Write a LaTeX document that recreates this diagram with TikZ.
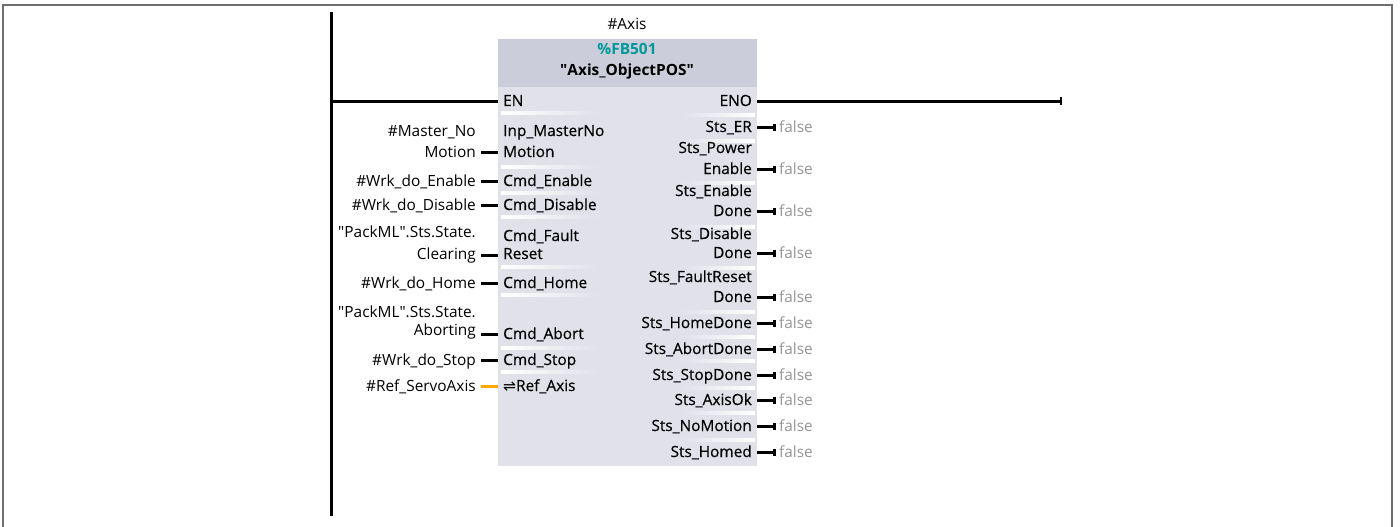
\documentclass[tikz,border=0pt]{standalone}
\usepackage{fontspec}
\setmainfont{Open Sans}
\newfontfamily\pinfont[FakeBold=0.4]{Open Sans}
\newfontfamily\symfont{DejaVu Sans}
\usetikzlibrary{arrows.meta}
\definecolor{hdrc}{RGB}{203,205,219}
\definecolor{bodyc}{RGB}{224,225,233}
\definecolor{tealc}{RGB}{0,153,153}
\definecolor{fgray}{RGB}{150,150,150}
\definecolor{framec}{RGB}{110,110,110}
\definecolor{refor}{RGB}{255,168,0}
\newcommand{\fsz}{\fontsize{15.4}{18}\selectfont}
\tikzset{
  lbl/.style={anchor=base east, inner sep=0pt, font=\fsz},
  inname/.style={anchor=base west, inner sep=0pt, font=\pinfont\fsz},
  outname/.style={anchor=base east, inner sep=0pt, font=\pinfont\fsz},
  fval/.style={anchor=base west, inner sep=0pt, text=fgray, font=\fsz},
  pinline/.style={line width=3pt},
  outpin/.style={line width=3pt, -{Rectangle[length=3pt,width=7pt]}},
  sepL/.style={left color=white, right color=bodyc},
  sepR/.style={left color=bodyc, right color=white},
}
\begin{document}
\begin{tikzpicture}[x=1pt,y=-1pt]
\useasboundingbox (0,0) rectangle (1400,527);
% frame
\draw[framec, line width=2pt] (3,527) -- (3,5) -- (1392,5) -- (1392,527);
% power rail
\coordinate (railtop) at (331,12);
\coordinate (railbot) at (331,516);
\draw[line width=3pt] (railtop) -- (railbot);
% block
\node[fill=bodyc, anchor=north west, minimum width=259pt, minimum height=427pt, inner sep=0pt] (blk) at (498,39) {};
\node[fill=hdrc, anchor=north west, minimum width=259pt, minimum height=48pt, inner sep=0pt] (hdr) at (498,39) {};
\node[font=\fsz, inner sep=0pt] (inst) at (627,24) {\#Axis};
\node[font=\bfseries\fsz, text=tealc, inner sep=0pt] (fbno) at (627,49) {\%FB501};
\node[font=\bfseries\fsz, inner sep=0pt] (fbname) at (627,71) {\textquotedbl Axis\_ObjectPOS\textquotedbl};
% separators left
\foreach \yy in {113,167,193,217,267,295,348,372} {
  \shade[sepL] (501,\yy-1.5) rectangle (600,\yy+1.5);
}
% separators right
\foreach \yy in {115,141,183,227,268,312,337,361,388,413,440} {
  \shade[sepR] (680,\yy-1.5) rectangle (755,\yy+1.5);
}
% EN / ENO
\node[inname] (en) at (503,106) {EN};
\node[outname] (eno) at (752,106) {ENO};
\coordinate (enoend) at (1062,101);
\draw[line width=3pt] (railtop |- 0,101) -- (blk.west |- 0,101);
\draw[line width=3pt, -{Bar[width=8pt,line width=2pt]}] (blk.east |- 0,101) -- (enoend);
% inputs: labels
\node[lbl] (l1a) at (476,136) {\#Master\_No};
\node[lbl] (l1b) at (476,157) {Motion};
\node[lbl] (l2) at (476,186) {\#Wrk\_do\_Enable};
\node[lbl] (l3) at (476,210) {\#Wrk\_do\_Disable};
\node[lbl] (l4a) at (476,237) {\textquotedbl PackML\textquotedbl.Sts.State.};
\node[lbl] (l4b) at (476,259) {Clearing};
\node[lbl] (l5) at (476,288) {\#Wrk\_do\_Home};
\node[lbl] (l6a) at (476,317) {\textquotedbl PackML\textquotedbl.Sts.State.};
\node[lbl] (l6b) at (476,335) {Aborting};
\node[lbl] (l7) at (476,365) {\#Wrk\_do\_Stop};
\node[lbl] (l8) at (476,391) {\#Ref\_ServoAxis};
% inputs: pin names
\node[inname] (i1a) at (503,136) {Inp\_MasterNo};
\node[inname] (i1b) at (503,157) {Motion};
\node[inname] (i2) at (503,186) {Cmd\_Enable};
\node[inname] (i3) at (503,210) {Cmd\_Disable};
\node[inname] (i4a) at (503,241) {Cmd\_Fault};
\node[inname] (i4b) at (503,259) {Reset};
\node[inname] (i5) at (503,288) {Cmd\_Home};
\node[inname] (i6) at (503,339) {Cmd\_Abort};
\node[inname] (i7) at (503,365) {Cmd\_Stop};
\node[inname] (i8) at (503,391) {{\symfont ⇌}Ref\_Axis};
% input pins
\foreach \yy in {152,181,205,255,283,334,360} {
  \draw[pinline] (blk.west |- 0,\yy) -- ++(-17,0);
}
\draw[pinline, refor] (blk.west |- 0,386) -- ++(-17,0);
% outputs
\node[outname] (o1) at (752,132) {Sts\_ER};
\node[outname] (o2a) at (752,153) {Sts\_Power};
\node[outname] (o2b) at (752,174) {Enable};
\node[outname] (o3a) at (752,196) {Sts\_Enable};
\node[outname] (o3b) at (752,216) {Done};
\node[outname] (o4a) at (752,239) {Sts\_Disable};
\node[outname] (o4b) at (752,258) {Done};
\node[outname] (o5a) at (752,282) {Sts\_FaultReset};
\node[outname] (o5b) at (752,302) {Done};
\node[outname] (o6) at (752,328) {Sts\_HomeDone};
\node[outname] (o7) at (752,354) {Sts\_AbortDone};
\node[outname] (o8) at (752,380) {Sts\_StopDone};
\node[outname] (o9) at (752,405) {Sts\_AxisOk};
\node[outname] (o10) at (752,431) {Sts\_NoMotion};
\node[outname] (o11) at (752,457) {Sts\_Homed};
\foreach \yy/\nm in {127/f1,169/f2,211/f3,253/f4,297/f5,323/f6,349/f7,375/f8,400/f9,426/f10,452/f11} {
  \coordinate (\nm p) at (776,\yy);
  \draw[outpin] (blk.east |- 0,\yy) -- (\nm p);
  \node[fval] (\nm) at (779,\yy+5) {false};
}
\end{tikzpicture}
\end{document}
